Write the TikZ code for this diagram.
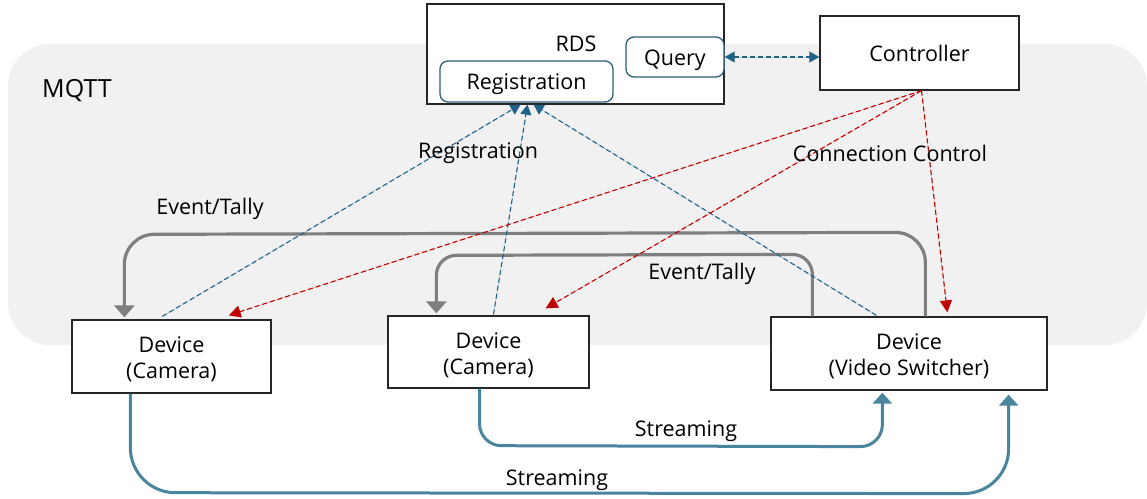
\documentclass[tikz,border=0pt]{standalone}
\usepackage{fontspec}
\setmainfont{Open Sans}
\usetikzlibrary{arrows.meta}
\definecolor{mqttbg}{HTML}{F1F1F1}
\definecolor{regblue}{HTML}{1F6389}
\definecolor{boxteal}{HTML}{2C5F78}
\definecolor{ctrlred}{HTML}{C00000}
\definecolor{tallygray}{HTML}{7F7F7F}
\definecolor{streamblue}{HTML}{4A85A0}
\begin{document}
\begin{tikzpicture}[x=1pt,y=-1pt,
  font=\fontsize{21.5}{26}\selectfont,
  box/.style={draw=black!85, line width=1.3pt, fill=white, inner sep=0pt},
  subbox/.style={draw=boxteal, line width=1.3pt, fill=white, rounded corners=8pt, inner sep=0pt},
  lbl/.style={inner sep=0pt},
  intext/.style={label={[lbl, align=center, yshift=-3pt]center:#1}},
  regline/.style={draw=regblue, line width=1.1pt, dash pattern=on 5pt off 3pt,
    -{Triangle[width=11pt,length=10pt]}, fill=regblue},
  ctrlline/.style={draw=ctrlred, line width=1.1pt, dash pattern=on 5pt off 3pt,
    -{Triangle[width=12pt,length=12pt]}, fill=ctrlred},
  tally/.style={draw=tallygray, line width=3.2pt,
    -{Triangle[width=20pt,length=12pt]}},
  stream/.style={draw=streamblue, line width=3pt,
    -{Triangle[width=19pt,length=11pt]}},
]
\useasboundingbox (0,0) rectangle (1147,498);

% MQTT broker area
\fill[mqttbg, rounded corners=42pt] (8,44) rectangle (1147,345);
\node[lbl, anchor=west, font=\fontsize{25}{30}\selectfont] (mqtt) at (42,91) {MQTT};

% RDS with its two services
\node[box, minimum width=297pt, minimum height=100pt] (rds) at (575.5,54) {};
\node[lbl] (rdslbl) at (576,44) {RDS};
\node[subbox, minimum width=173pt, minimum height=41pt, intext={Registration}] (reg) at (526.5,81.5) {};
\node[subbox, minimum width=98pt, minimum height=40pt, intext={Query}] (query) at (675,57) {};

% Controller
\node[box, minimum width=199pt, minimum height=74pt] (ctrl) at (919.5,53) {Controller};

% Devices
\node[box, minimum width=199pt, minimum height=73pt, intext={Device\\(Camera)}] (cam1) at (171.5,356.5) {};
\node[box, minimum width=201pt, minimum height=72pt, intext={Device\\(Camera)}] (cam2) at (488.5,352) {};
\node[box, minimum width=276pt, minimum height=73pt, intext={Device\\(Video Switcher)}] (vs) at (909,353.5) {};

% Query <-> Controller
\draw[draw=regblue, line width=1.1pt, dash pattern=on 5pt off 3pt,
  {Triangle[width=11pt,length=10pt]}-{Triangle[width=11pt,length=10pt]}, fill=regblue]
  (query.east) -- (ctrl.west |- query.east);

% Event/Tally from the video switcher to the cameras
\draw[tally, rounded corners=30pt]
  ([xshift=155pt]vs.north west) -- ++(0,-84) -- ([yshift=85pt, xshift=53pt]cam1.north west) -- ([yshift=2pt, xshift=53pt]cam1.north west);
\draw[tally, rounded corners=20pt]
  ([xshift=42pt]vs.north west) -- ++(0,-62) -- ([yshift=60pt, xshift=49pt]cam2.north west) -- ([yshift=2pt, xshift=49pt]cam2.north west);

% Streaming from the cameras to the video switcher
\draw[stream, rounded corners=22pt]
  ([xshift=-9pt]cam2.south) -- ++(0,57) -- ([yshift=-56pt, xshift=112pt]vs.south west) -- ([yshift=-2pt, xshift=112pt]vs.south west);
\draw[stream, rounded corners=45pt]
  ([xshift=59pt]cam1.south west) -- ++(0,99) -- ([yshift=-103pt, xshift=-39pt]vs.south east) -- ([yshift=-4pt, xshift=-39pt]vs.south east);

% Registration requests
\draw[regline] ([xshift=91pt, yshift=3pt]cam1.north west) -- ([xshift=-6pt, yshift=-2pt]reg.south);
\draw[regline] ([xshift=5pt, yshift=1pt]cam2.north) -- ([xshift=1pt, yshift=-2pt]reg.south);
\draw[regline] ([xshift=106pt, yshift=1pt]vs.north west) -- ([xshift=7pt, yshift=-2pt]reg.south);

% Connection control
\draw[ctrlline] ([xshift=2pt]ctrl.south) -- ([xshift=-43pt, yshift=4pt]cam1.north east);
\draw[ctrlline] ([xshift=2pt]ctrl.south) -- ([xshift=-44pt, yshift=7pt]cam2.north east);
\draw[ctrlline] ([xshift=2pt]ctrl.south) -- ([xshift=177pt, yshift=4pt]vs.north west);

% Labels
\node[lbl] (lreg) at (478,153) {Registration};
\node[lbl] (lcc) at (890,153) {Connection Control};
\node[lbl] (let1) at (210,209) {Event/Tally};
\node[lbl] (let2) at (702,274) {Event/Tally};
\node[lbl] (ls1) at (686,431) {Streaming};
\node[lbl] (ls2) at (557,480) {Streaming};
\end{tikzpicture}
\end{document}
